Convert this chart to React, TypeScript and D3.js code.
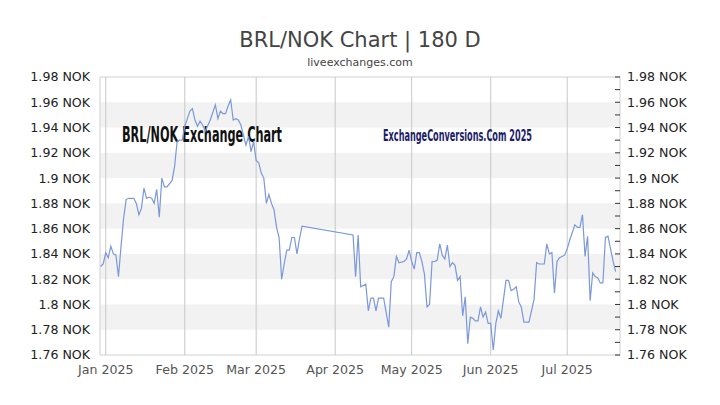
import * as d3 from 'd3'

// BRL/NOK daily rate
const dates = [
  '2024-12-30', '2024-12-31', '2025-01-01', '2025-01-02', '2025-01-03', '2025-01-04', '2025-01-05', '2025-01-06',
  '2025-01-07', '2025-01-08', '2025-01-09', '2025-01-10', '2025-01-12', '2025-01-13', '2025-01-14', '2025-01-15',
  '2025-01-16', '2025-01-17', '2025-01-18', '2025-01-19', '2025-01-20', '2025-01-21', '2025-01-22', '2025-01-23',
  '2025-01-24', '2025-01-25', '2025-01-27', '2025-01-28', '2025-01-29', '2025-01-30', '2025-01-31', '2025-02-01',
  '2025-02-03', '2025-02-04', '2025-02-05', '2025-02-06', '2025-02-07', '2025-02-08', '2025-02-09', '2025-02-11',
  '2025-02-13', '2025-02-14', '2025-02-15', '2025-02-16', '2025-02-17', '2025-02-18', '2025-02-19', '2025-02-20',
  '2025-02-21', '2025-02-22', '2025-02-23', '2025-02-25', '2025-02-26', '2025-02-27', '2025-02-28', '2025-03-01',
  '2025-03-02', '2025-03-03', '2025-03-04', '2025-03-05', '2025-03-06', '2025-03-07', '2025-03-08', '2025-03-09',
  '2025-03-10', '2025-03-11', '2025-03-12', '2025-03-13', '2025-03-14', '2025-03-15', '2025-03-16', '2025-03-17',
  '2025-03-18', '2025-03-19', '2025-04-08', '2025-04-09', '2025-04-10', '2025-04-11', '2025-04-13', '2025-04-14',
  '2025-04-15', '2025-04-16', '2025-04-17', '2025-04-18', '2025-04-20', '2025-04-22', '2025-04-23', '2025-04-24',
  '2025-04-25', '2025-04-26', '2025-04-28', '2025-04-29', '2025-04-30', '2025-05-01', '2025-05-02', '2025-05-03',
  '2025-05-04', '2025-05-05', '2025-05-06', '2025-05-07', '2025-05-08', '2025-05-09', '2025-05-10', '2025-05-11',
  '2025-05-12', '2025-05-13', '2025-05-14', '2025-05-15', '2025-05-16', '2025-05-17', '2025-05-18', '2025-05-19',
  '2025-05-20', '2025-05-21', '2025-05-22', '2025-05-23', '2025-05-24', '2025-05-25', '2025-05-26', '2025-05-27',
  '2025-05-28', '2025-05-29', '2025-05-30', '2025-05-31', '2025-06-01', '2025-06-02', '2025-06-03', '2025-06-04',
  '2025-06-05', '2025-06-07', '2025-06-08', '2025-06-09', '2025-06-10', '2025-06-11', '2025-06-12', '2025-06-13',
  '2025-06-14', '2025-06-16', '2025-06-18', '2025-06-19', '2025-06-20', '2025-06-22', '2025-06-23', '2025-06-24',
  '2025-06-25', '2025-06-26', '2025-06-27', '2025-06-28', '2025-06-30', '2025-07-01', '2025-07-02', '2025-07-04',
  '2025-07-05', '2025-07-06', '2025-07-07', '2025-07-08', '2025-07-09', '2025-07-10', '2025-07-11', '2025-07-12',
  '2025-07-13', '2025-07-14', '2025-07-15', '2025-07-16', '2025-07-17', '2025-07-18', '2025-07-19', '2025-07-20',
]

const rates = [
  1.830, 1.832, 1.841, 1.837, 1.846, 1.840, 1.839, 1.822,
  1.846, 1.868, 1.883, 1.884, 1.884, 1.880, 1.871, 1.876,
  1.892, 1.884, 1.885, 1.884, 1.880, 1.891, 1.869, 1.900,
  1.893, 1.893, 1.898, 1.909, 1.929, 1.930, 1.930, 1.941,
  1.953, 1.955, 1.946, 1.941, 1.945, 1.942, 1.937, 1.946,
  1.958, 1.947, 1.953, 1.951, 1.951, 1.957, 1.962, 1.946,
  1.947, 1.946, 1.942, 1.926, 1.933, 1.921, 1.929, 1.914,
  1.912, 1.904, 1.900, 1.880, 1.887, 1.880, 1.875, 1.861,
  1.853, 1.820, 1.832, 1.843, 1.843, 1.853, 1.853, 1.840,
  1.852, 1.862, 1.855, 1.822, 1.855, 1.814, 1.816, 1.795,
  1.805, 1.805, 1.795, 1.805, 1.805, 1.782, 1.818, 1.822,
  1.838, 1.833, 1.834, 1.836, 1.843, 1.834, 1.828, 1.841,
  1.841, 1.834, 1.824, 1.798, 1.800, 1.834, 1.834, 1.835,
  1.848, 1.839, 1.836, 1.847, 1.830, 1.833, 1.831, 1.819,
  1.822, 1.791, 1.806, 1.769, 1.790, 1.789, 1.787, 1.787,
  1.798, 1.790, 1.794, 1.785, 1.785, 1.764, 1.785, 1.795,
  1.789, 1.819, 1.819, 1.811, 1.812, 1.814, 1.802, 1.798,
  1.786, 1.786, 1.804, 1.833, 1.832, 1.832, 1.848, 1.840,
  1.841, 1.809, 1.834, 1.837, 1.839, 1.844, 1.851, 1.863,
  1.861, 1.861, 1.871, 1.838, 1.854, 1.803, 1.825, 1.822,
  1.821, 1.817, 1.817, 1.853, 1.854, 1.844, 1.834, 1.826,
]

const yTicks = [1.76, 1.78, 1.8, 1.82, 1.84, 1.86, 1.88, 1.9, 1.92, 1.94, 1.96, 1.98]
const yMinorTicks = [1.77, 1.79, 1.81, 1.83, 1.85, 1.87, 1.89, 1.91, 1.93, 1.95, 1.97]
const shadedBands = [[1.78, 1.8], [1.82, 1.84], [1.86, 1.88], [1.9, 1.92], [1.94, 1.96]]
const domainStart = new Date(2024, 11, 29, 18)
const domainEnd = new Date(2025, 6, 21, 17)

const W = 720
const H = 405
const margin = { top: 77, right: 100, bottom: 50, left: 100 }

export default function App() {
  const parse = d3.timeParse('%Y-%m-%d')
  const data = dates.map((d, i) => ({ date: parse(d) as Date, value: rates[i] }))

  const x = d3.scaleTime().domain([domainStart, domainEnd]).range([margin.left, W - margin.right])
  const y = d3.scaleLinear().domain([1.76, 1.98]).range([H - margin.bottom, margin.top])

  const months = d3.timeMonth.range(new Date(2025, 0, 1), new Date(2025, 7, 1))
  const fmtMonth = d3.timeFormat('%b %Y')

  const line = d3.line<{ date: Date; value: number }>()
    .x(d => x(d.date))
    .y(d => y(d.value))

  const left = margin.left
  const right = W - margin.right
  const top = margin.top
  const bottom = H - margin.bottom
  const font = 'DejaVu Sans, Verdana, sans-serif'
  const condensed = 'DejaVu Sans Condensed, DejaVu Sans, sans-serif'

  return (
    <div style={{ position: 'absolute', left: 0, top: 0 }}>
      <svg width={W} height={H} style={{ display: 'block', background: '#fff' }}>
        <text x={W / 2} y={47} textAnchor="middle" fontFamily={font} fontSize={21} fill="#444">
          BRL/NOK Chart | 180 D
        </text>
        <text x={W / 2} y={66} textAnchor="middle" fontFamily={font} fontSize={11} fill="#444">
          liveexchanges.com
        </text>

        {/* alternating bands */}
        {shadedBands.map(([a, b]) => (
          <rect key={a} x={left} y={y(b)} width={right - left} height={y(a) - y(b)} fill="#f2f2f2" />
        ))}

        {/* month gridlines */}
        {months.map(m => (
          <line key={+m} x1={x(m)} x2={x(m)} y1={top} y2={bottom} stroke="#c8c8c8" strokeWidth={1} />
        ))}

        <rect x={left} y={top} width={right - left} height={bottom - top} fill="none" stroke="#d0d0d0" />

        {/* watermarks */}
        <text x={122} y={142} fontFamily={condensed} fontWeight="bold"
          fontSize={21} fill="#111" textLength={160} lengthAdjust="spacingAndGlyphs">
          BRL/NOK Exchange Chart
        </text>
        <text x={383} y={141} fontFamily={condensed} fontWeight="bold"
          fontSize={15} fill="#1c1c6b" textLength={149} lengthAdjust="spacingAndGlyphs">
          ExchangeConversions.Com 2025
        </text>

        <path d={line(data) ?? ''} fill="none" stroke="#7b98db" strokeWidth={1.2} />

        {/* left axis labels */}
        {yTicks.map(t => (
          <text key={'l' + t} x={90} y={y(t)} dy="0.35em" textAnchor="end" fontFamily={font} fontSize={12.6} fill="#222">
            {`${d3.format('.2~f')(t)} NOK`}
          </text>
        ))}

        {/* right axis ticks and labels */}
        {[...yTicks, ...yMinorTicks].map(t => (
          <line key={'t' + t} x1={right - 5} x2={right} y1={y(t)} y2={y(t)} stroke="#333" />
        ))}
        {yTicks.map(t => (
          <text key={'r' + t} x={627} y={y(t)} dy="0.35em" fontFamily={font} fontSize={12.6} fill="#222">
            {`${d3.format('.2~f')(t)} NOK`}
          </text>
        ))}

        {/* month labels */}
        {months.map(m => (
          <text key={'m' + +m} x={x(m)} y={374} textAnchor="middle" fontFamily={font} fontSize={12.6} fill="#555">
            {fmtMonth(m)}
          </text>
        ))}
      </svg>
    </div>
  )
}
